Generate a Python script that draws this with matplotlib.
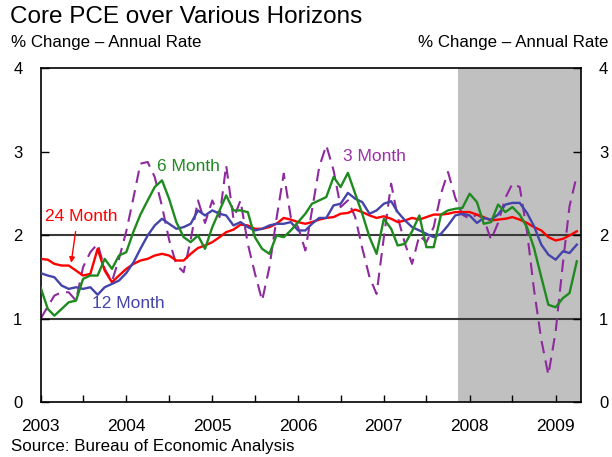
import matplotlib
matplotlib.use("Agg")
import matplotlib.pyplot as plt
import numpy as np
import pandas as pd

# monthly core PCE inflation, % change annual rate, Jan 2003 - Apr 2009
dates = pd.date_range("2003-01-01", periods=76, freq="MS")

pce_24m = [1.72, 1.71, 1.66, 1.64, 1.64, 1.58, 1.52, 1.54, 1.84, 1.58,
           1.44, 1.52, 1.60, 1.66, 1.70, 1.72, 1.76, 1.78, 1.76, 1.70,
           1.70, 1.78, 1.85, 1.88, 1.92, 1.98, 2.04, 2.07, 2.13, 2.12,
           2.08, 2.08, 2.10, 2.14, 2.21, 2.19, 2.16, 2.14, 2.16, 2.19,
           2.21, 2.22, 2.26, 2.27, 2.31, 2.28, 2.24, 2.21, 2.23, 2.20,
           2.16, 2.18, 2.21, 2.19, 2.22, 2.25, 2.25, 2.26, 2.28, 2.28,
           2.28, 2.25, 2.22, 2.18, 2.19, 2.20, 2.22, 2.19, 2.15, 2.10,
           2.06, 1.98, 1.94, 1.96, 2.00, 2.05]

pce_12m = [1.55, 1.52, 1.50, 1.40, 1.36, 1.38, 1.36, 1.38, 1.29, 1.38,
           1.42, 1.46, 1.55, 1.68, 1.84, 2.00, 2.12, 2.20, 2.14, 2.08,
           2.10, 2.14, 2.30, 2.24, 2.30, 2.26, 2.24, 2.12, 2.16, 2.10,
           2.06, 2.08, 2.12, 2.14, 2.14, 2.16, 2.06, 2.06, 2.14, 2.21,
           2.21, 2.36, 2.38, 2.51, 2.44, 2.40, 2.26, 2.30, 2.38, 2.41,
           2.28, 2.18, 2.10, 2.06, 2.02, 1.98, 2.02, 2.12, 2.24, 2.26,
           2.24, 2.15, 2.21, 2.19, 2.25, 2.37, 2.39, 2.39, 2.27, 2.11,
           1.89, 1.77, 1.71, 1.81, 1.79, 1.89]

pce_6m = [1.38, 1.12, 1.04, 1.12, 1.20, 1.22, 1.48, 1.52, 1.52, 1.72,
          1.60, 1.76, 1.80, 2.05, 2.25, 2.42, 2.58, 2.66, 2.44, 2.16,
          1.98, 1.92, 2.00, 1.84, 2.10, 2.30, 2.48, 2.30, 2.30, 2.28,
          1.98, 1.84, 1.78, 2.00, 1.98, 2.06, 2.16, 2.26, 2.38, 2.42,
          2.46, 2.70, 2.58, 2.75, 2.50, 2.26, 1.98, 1.78, 2.20, 2.08,
          1.88, 1.90, 2.05, 2.24, 1.86, 1.86, 2.25, 2.30, 2.32, 2.33,
          2.50, 2.40, 2.14, 2.16, 2.37, 2.28, 2.34, 2.25, 2.10, 1.85,
          1.50, 1.17, 1.14, 1.25, 1.31, 1.69]

pce_3m = [1.00, 1.15, 1.28, 1.32, 1.32, 1.22, 1.62, 1.80, 1.90, 1.60,
          1.45, 1.72, 2.05, 2.46, 2.86, 2.88, 2.70, 2.35, 1.95, 1.65,
          1.56, 1.95, 2.42, 2.15, 2.42, 2.22, 2.84, 2.20, 2.42, 1.90,
          1.55, 1.22, 1.62, 2.20, 2.74, 2.22, 2.10, 1.82, 2.30, 2.82,
          3.08, 2.78, 2.34, 2.42, 2.22, 1.85, 1.50, 1.30, 1.98, 2.62,
          2.22, 1.90, 1.66, 2.00, 1.92, 2.10, 2.50, 2.76, 2.45, 2.25,
          2.20, 2.25, 2.20, 1.95, 2.15, 2.45, 2.62, 2.58, 2.05, 1.35,
          0.75, 0.33, 0.85, 1.67, 2.35, 2.72]

recession_start = pd.Timestamp("2007-11-12")
x_end = pd.Timestamp("2009-04-19")
years = [2003, 2004, 2005, 2006, 2007, 2008, 2009]

narrow = ["Liberation Sans Narrow", "Liberation Sans", "DejaVu Sans"]
regular = ["Liberation Sans", "DejaVu Sans"]

fig = plt.figure(figsize=(6.12, 4.57), dpi=100)
ax = fig.add_axes([0.0662, 0.1193, 0.8832, 0.7309])

ax.axvspan(recession_start, x_end, color="#c0c0c0", lw=0, zorder=0)
for level in [1, 2]:
    ax.axhline(level, color="#3a3a3a", lw=1.5, zorder=1)

ax.plot(dates, pce_3m, color="#8e2a9e", lw=1.5, dashes=(6, 3.5), zorder=2)
ax.plot(dates, pce_24m, color="#ff0000", lw=1.7, zorder=3)
ax.plot(dates, pce_12m, color="#4444aa", lw=1.7, zorder=4)
ax.plot(dates, pce_6m, color="#1f8a1f", lw=1.7, zorder=5)

ax.set_xlim(dates[0], x_end)
ax.set_ylim(0, 4)
ax.set_yticks([0, 1, 2, 3, 4])

ax.set_xticks([pd.Timestamp(f"{y}-01-01") for y in years])
ax.set_xticklabels([str(y) for y in years])
ax.set_xticks([pd.Timestamp(f"{y}-07-01") for y in years[:-1]], minor=True)
ax.tick_params(axis="x", which="both", direction="in", length=5, width=1,
               pad=12, labelsize=12.5)
ax.tick_params(axis="y", direction="in", length=6, width=1, pad=13,
               labelsize=12, right=True, labelright=True)
for lab in ax.get_xticklabels() + ax.get_yticklabels():
    lab.set_family(narrow)

for sp in ax.spines.values():
    sp.set_linewidth(1.2)
    sp.set_color("black")

# series labels
ax.text(pd.Timestamp("2003-01-20"), 2.23, "24 Month", color="#ff0000",
        fontsize=12.5, family=narrow, va="center")
ax.annotate("", xy=(pd.Timestamp("2003-05-10"), 1.64),
            xytext=(pd.Timestamp("2003-06-01"), 2.08),
            arrowprops=dict(arrowstyle="-|>", color="#ff0000", lw=1,
                            mutation_scale=8))
ax.text(pd.Timestamp("2003-08-10"), 1.18, "12 Month", color="#4444aa",
        fontsize=12.5, family=narrow, va="center")
ax.text(pd.Timestamp("2004-05-12"), 2.83, "6 Month", color="#1f8a1f",
        fontsize=12.5, family=narrow, va="center")
ax.text(pd.Timestamp("2006-07-10"), 2.95, "3 Month", color="#9a30a8",
        fontsize=12.5, family=narrow, va="center")

fig.text(0.016, 0.962, "Core PCE over Various Horizons", fontsize=17.5,
         family=regular, va="center")
fig.text(0.018, 0.906, "% Change \u2013 Annual Rate", fontsize=12.2,
         family=narrow, va="center")
fig.text(0.995, 0.906, "% Change \u2013 Annual Rate", fontsize=12.2,
         family=narrow, va="center", ha="right")
fig.text(0.018, 0.022, "Source: Bureau of Economic Analysis", fontsize=12.2,
         family=narrow, va="center")

fig.savefig("out.png", dpi=100)
